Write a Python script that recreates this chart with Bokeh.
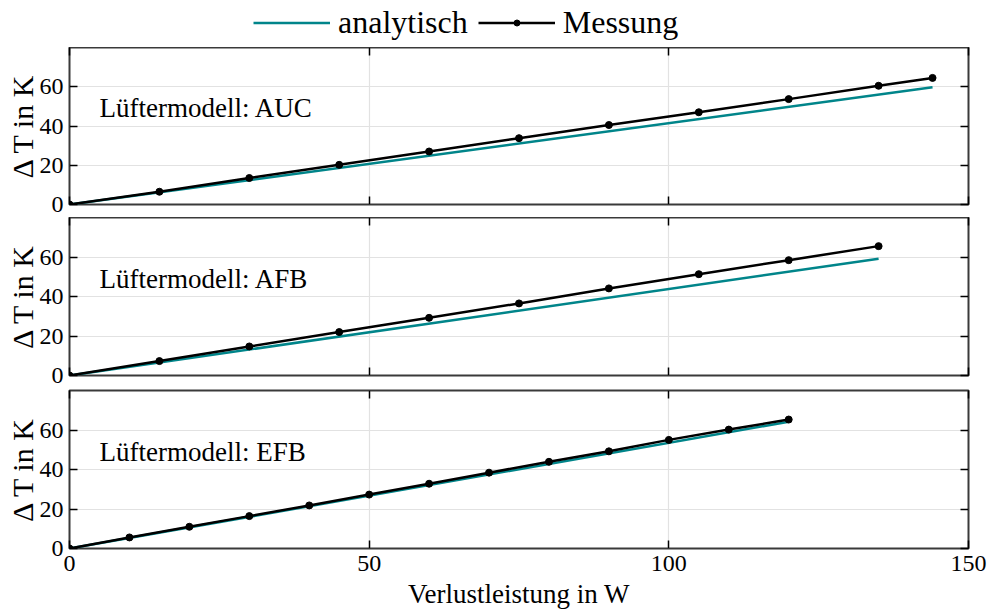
from bokeh.plotting import figure
from bokeh.models import Range1d, LinearAxis, FixedTicker, Legend, LegendItem, Label
from bokeh.layouts import column
from bokeh.embed import file_html
from bokeh.resources import INLINE

FONT = "Liberation Serif"
TEAL = "#00858a"
FRAME = "#3a3a3a"

# Fan model AUC
auc_power = [0, 15, 30, 45, 60, 75, 90, 105, 120, 135, 144]
auc_meas = [0, 6.5, 13.5, 20.2, 27.0, 33.8, 40.5, 47.0, 53.7, 60.5, 64.5]
auc_model_power = [0, 144]
auc_model = [0, 59.7]

# Fan model AFB
afb_power = [0, 15, 30, 45, 60, 75, 90, 105, 120, 135]
afb_meas = [0, 7.3, 14.7, 22.0, 29.2, 36.5, 44.1, 51.3, 58.4, 65.5]
afb_model_power = [0, 135]
afb_model = [0, 59.1]

# Fan model EFB
efb_power = [0, 10, 20, 30, 40, 50, 60, 70, 80, 90, 100, 110, 120]
efb_meas = [0, 5.6, 11.0, 16.4, 21.8, 27.3, 32.8, 38.4, 43.9, 49.2, 55.0, 60.2, 65.3]
efb_model_power = [0, 120]
efb_model = [0, 64.2]

x_ticks = [0, 50, 100, 150]
y_ticks = [0, 20, 40, 60]
x_label = "Verlustleistung in W"
y_label = "Δ T in K"


def style_axis(ax, ticks, show_labels):
    ax.ticker = FixedTicker(ticks=ticks)
    ax.axis_line_color = None
    ax.major_tick_in = 8
    ax.major_tick_out = 0
    ax.major_tick_line_color = "black"
    ax.major_tick_line_width = 1.5
    ax.minor_tick_line_color = None
    if show_labels:
        ax.major_label_text_font = FONT
        ax.major_label_text_font_size = "24px"
        ax.major_label_text_color = "black"
    else:
        # ticks only, no labels
        ax.major_label_text_font_size = "0px"
        ax.major_label_text_color = None
        ax.major_label_standoff = 0


def make_panel(name, xm, ym, xa, ya, frame_h, top, bottom, last):
    p = figure(frame_width=899, frame_height=frame_h,
               x_range=Range1d(0, 150), y_range=Range1d(0, 80),
               output_backend="svg", toolbar_location=None,
               min_border_left=69, min_border_right=22,
               min_border_top=top, min_border_bottom=bottom)
    p.background_fill_color = "white"
    p.border_fill_color = "white"
    p.outline_line_color = FRAME
    p.outline_line_width = 2

    style_axis(p.xaxis[0], x_ticks, last)
    style_axis(p.yaxis[0], y_ticks, True)
    p.yaxis[0].major_label_standoff = 6
    p.yaxis[0].axis_label = y_label
    p.yaxis[0].axis_label_text_font = FONT
    p.yaxis[0].axis_label_text_font_size = "30px"
    p.yaxis[0].axis_label_text_font_style = "normal"
    p.yaxis[0].axis_label_text_color = "black"
    p.yaxis[0].axis_label_standoff = -2
    if last:
        p.xaxis[0].major_label_standoff = 7
        p.xaxis[0].axis_label = x_label
        p.xaxis[0].axis_label_text_font = FONT
        p.xaxis[0].axis_label_text_font_size = "27px"
        p.xaxis[0].axis_label_text_font_style = "normal"
        p.xaxis[0].axis_label_text_color = "black"
        p.xaxis[0].axis_label_standoff = 5

    top_ax = LinearAxis()
    style_axis(top_ax, x_ticks, False)
    p.add_layout(top_ax, "above")
    right_ax = LinearAxis()
    style_axis(right_ax, y_ticks, False)
    p.add_layout(right_ax, "right")

    p.xgrid.ticker = FixedTicker(ticks=x_ticks)
    p.ygrid.ticker = FixedTicker(ticks=y_ticks)
    p.grid.grid_line_color = "#e2e2e2"
    p.grid.grid_line_width = 1.2

    p.line(xa, ya, line_color=TEAL, line_width=2.5)
    p.line(xm, ym, line_color="black", line_width=2.5)
    p.scatter(xm, ym, size=7, marker="circle", fill_color="black", line_color="black")

    p.add_layout(Label(x=5, y=49, text="Lüftermodell: " + name, text_font=FONT,
                       text_font_size="27px", text_baseline="middle", text_color="black"))
    return p


p1 = make_panel("AUC", auc_power, auc_meas, auc_model_power, auc_model, 157, 0, 13, False)
p2 = make_panel("AFB", afb_power, afb_meas, afb_model_power, afb_model, 158, 0, 14, False)
p3 = make_panel("EFB", efb_power, efb_meas, efb_model_power, efb_model, 158, 1, 61, True)

# strip holding the shared legend above the panels; its sample glyphs lie
# outside the visible range so only the legend entries show
key = figure(width=990, height=47, x_range=Range1d(0, 1), y_range=Range1d(0, 1),
             output_backend="svg", toolbar_location=None,
             x_axis_location=None, y_axis_location=None,
             min_border_left=69, min_border_right=22, min_border_top=0, min_border_bottom=0)
key.outline_line_color = None
key.grid.visible = False
k_ana = key.line([-2, -1], [-2, -2], line_color=TEAL, line_width=2.5)
k_line = key.line([-2, -1], [-2, -2], line_color="black", line_width=2.5)
k_pts = key.scatter([-2], [-2], size=7, marker="circle", fill_color="black", line_color="black")
legend = Legend(items=[LegendItem(label="analytisch", renderers=[k_ana]),
                       LegendItem(label="Messung", renderers=[k_line, k_pts])],
                orientation="horizontal", location=(184, 6),
                label_text_font=FONT, label_text_font_size="32px", label_text_color="black",
                glyph_width=77, glyph_height=15, label_height=15,
                label_standoff=8, spacing=10,
                padding=0, margin=0, border_line_color=None, background_fill_alpha=0)
key.add_layout(legend, "center")

layout = column(key, p1, p2, p3, spacing=0)
open("out.html", "w").write(file_html(layout, INLINE))
